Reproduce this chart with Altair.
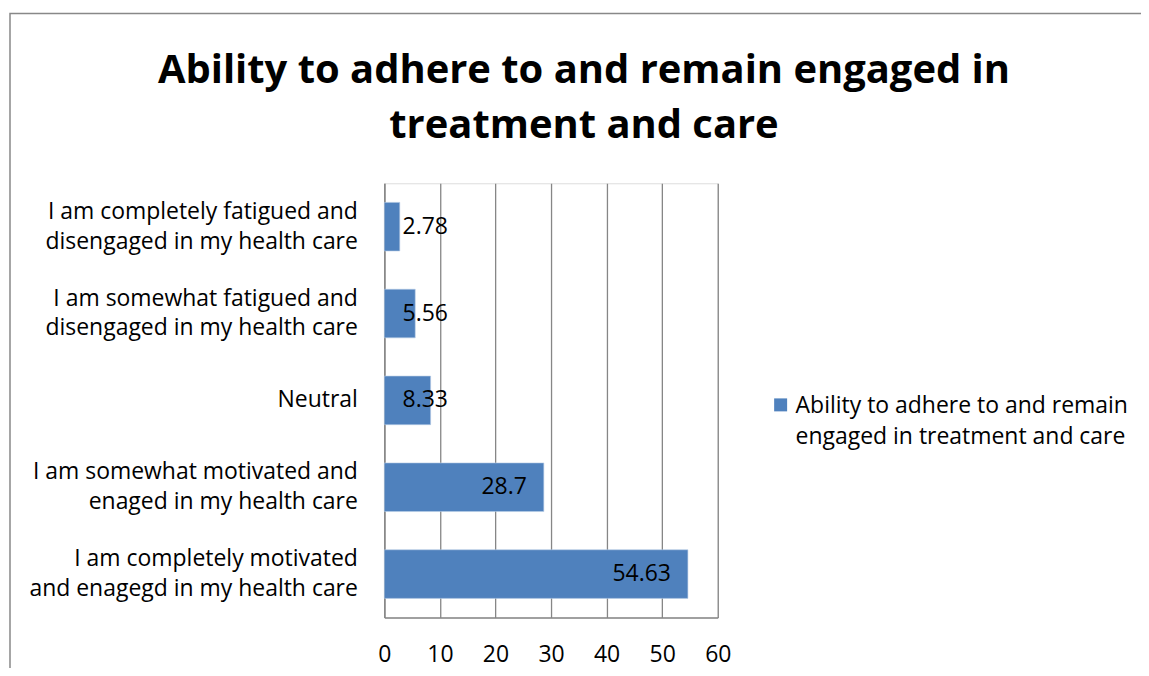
import altair as alt
import pandas as pd

categories = [
    "I am completely fatigued and|disengaged in my health care",
    "I am somewhat fatigued and|disengaged in my health care",
    "Neutral",
    "I am somewhat motivated and|enaged in my health care",
    "I am completely motivated|and enagegd in my health care",
]
values = [2.78, 5.56, 8.33, 28.7, 54.63]
x_ticks = [0, 10, 20, 30, 40, 50, 60]
series_name = ["Ability to adhere to and remain", "engaged in treatment and care"]
title_lines = ["Ability to adhere to and remain engaged in", "treatment and care"]

BAR = "#4F81BD"
GRID = "#868686"
FONT = "Open Sans"
TFONT = "Open Sans"
FS = 23

df = pd.DataFrame({"category": categories, "value": values})

W, H = 334, 435

y_enc = alt.Y(
    "category:N",
    sort=categories,
    scale=alt.Scale(paddingInner=0.44, paddingOuter=0.22),
    axis=alt.Axis(
        title=None,
        labelExpr="split(datum.label, '|')",
        labelLineHeight=30,
        labelFontSize=FS,
        labelFont=FONT,
        labelColor="#000000",
        labelPadding=27,
        labelLimit=400,
        labelOffset={
            "condition": {"test": "indexof(datum.label, '|') >= 0", "value": -15},
            "value": 0,
        },
        ticks=False,
        domainColor=GRID,
        domainWidth=1.3,
        grid=False,
    ),
)

x_enc = alt.X(
    "value:Q",
    scale=alt.Scale(domain=[0, 60], nice=False),
    axis=alt.Axis(
        title=None,
        values=x_ticks,
        labelFontSize=FS,
        labelFont=FONT,
        labelColor="#000000",
        labelPadding=26,
        labelFlush=False,
        ticks=False,
        domainColor=GRID,
        domainWidth=1.3,
        grid=True,
        gridColor=GRID,
        gridWidth=1.3,
    ),
)

bars = alt.Chart(df).mark_bar(color=BAR, stroke="#B9CDE5", strokeWidth=0.6).encode(
    x=x_enc, y=y_enc
)

labels = (
    alt.Chart(df)
    .transform_calculate(lx="max(datum.value, 14.5)")
    .mark_text(align="right", baseline="middle", dx=-17, fontSize=FS, font=FONT, color="#000000")
    .encode(
        x=alt.X("lx:Q"),
        y=alt.Y("category:N", sort=categories),
        text=alt.Text("value:Q", format=".4~"),
    )
)

frame = (
    alt.Chart(alt.Data(values=[{"k": 1}]))
    .mark_rect(fill=None, stroke="#888888", strokeWidth=1.5, clip=False)
    .encode(
        x=alt.value(-375),
        x2=alt.value(1000),
        y=alt.value(-170),
        y2=alt.value(700),
    )
)

legend_sym = (
    alt.Chart(alt.Data(values=[{"k": 1}]))
    .mark_square(color=BAR, size=169, opacity=1)
    .encode(x=alt.value(397), y=alt.value(222))
)

legend_txt = (
    alt.Chart(alt.Data(values=[{"k": 1}]))
    .mark_text(
        align="left",
        baseline="alphabetic",
        fontSize=FS,
        font=FONT,
        lineHeight=31,
        color="#000000",
        text=series_name,
    )
    .encode(x=alt.value(412), y=alt.value(230))
)

chart = (
    alt.layer(frame, bars, labels, legend_sym, legend_txt)
    .properties(
        width=W,
        height=H,
        autosize=alt.AutoSizeParams(type="none"),
        padding={"left": 377, "top": 175, "right": 424, "bottom": 50},
        title=alt.TitleParams(
            text=title_lines,
            font=TFONT,
            fontSize=40,
            fontWeight="bold",
            color="#000000",
            anchor="middle",
            dx=33,
            lineHeight=55,
            offset=-133,
        ),
    )
    .configure_view(stroke=None)
    .configure(background="white")
)

chart.save("out.html", embed_options={"renderer": "svg", "actions": False})
